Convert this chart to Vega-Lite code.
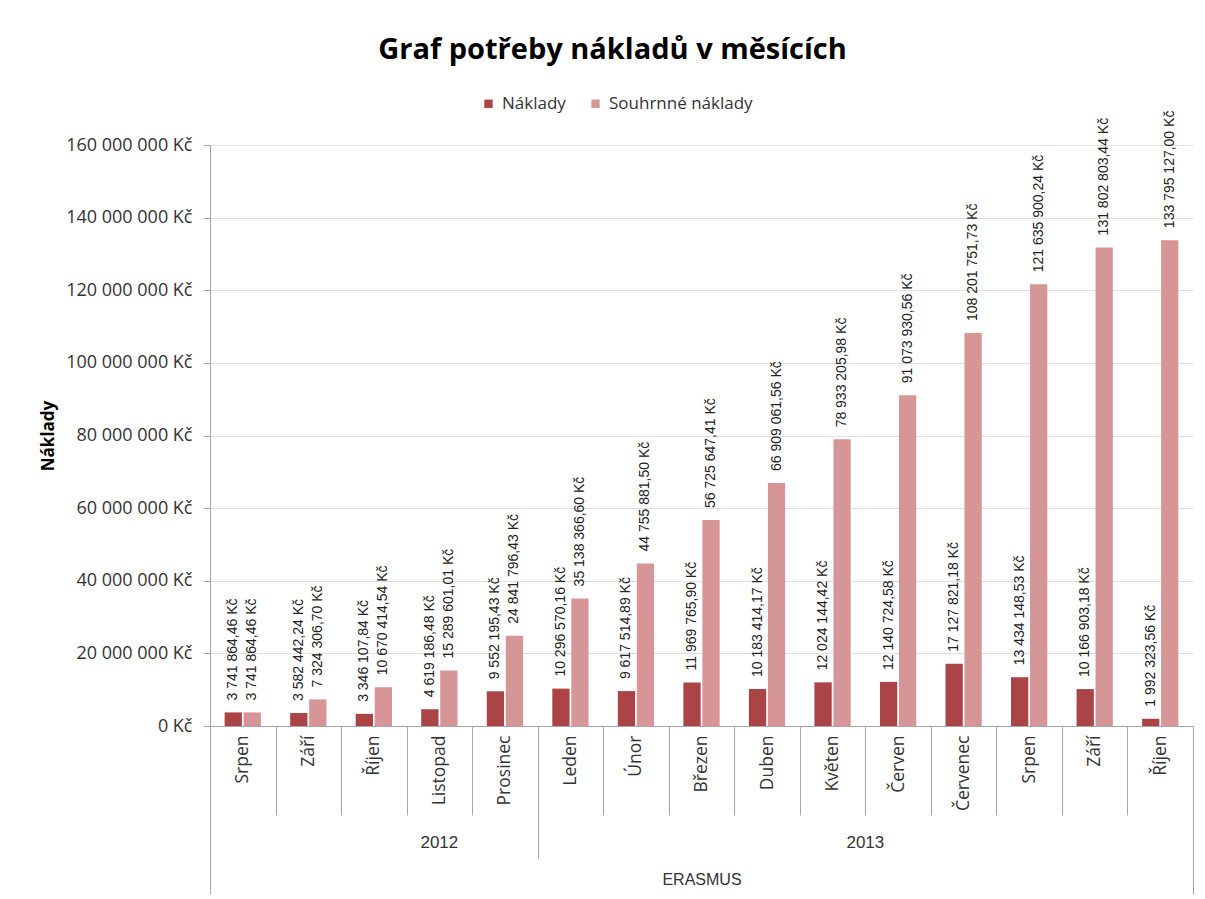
{
  "$schema": "https://vega.github.io/schema/vega-lite/v6.json",
  "width": 983,
  "height": 581,
  "autosize": {"type": "none"},
  "padding": {"left": 210, "top": 145, "right": 12, "bottom": 173},
  "background": "white",
  "config": {
    "locale": {"number": {"decimal": ",", "thousands": " ", "grouping": [3], "currency": ["", " Kč"]}},
    "view": {"stroke": null},
    "font": "Open Sans"
  },
  "title": {
    "text": "Graf potřeby nákladů v měsících",
    "anchor": "middle",
    "frame": "group",
    "dx": -89,
    "offset": 30,
    "font": "Open Sans",
    "fontSize": 29,
    "fontWeight": "bold",
    "color": "#000000"
  },
  "data": {
    "values": [
      {"key": "2012 Srpen", "series": "Náklady", "value": 3741864.46},
      {"key": "2012 Srpen", "series": "Souhrnné náklady", "value": 3741864.46},
      {"key": "2012 Září", "series": "Náklady", "value": 3582442.24},
      {"key": "2012 Září", "series": "Souhrnné náklady", "value": 7324306.70},
      {"key": "2012 Říjen", "series": "Náklady", "value": 3346107.84},
      {"key": "2012 Říjen", "series": "Souhrnné náklady", "value": 10670414.54},
      {"key": "2012 Listopad", "series": "Náklady", "value": 4619186.48},
      {"key": "2012 Listopad", "series": "Souhrnné náklady", "value": 15289601.01},
      {"key": "2012 Prosinec", "series": "Náklady", "value": 9552195.43},
      {"key": "2012 Prosinec", "series": "Souhrnné náklady", "value": 24841796.43},
      {"key": "2013 Leden", "series": "Náklady", "value": 10296570.16},
      {"key": "2013 Leden", "series": "Souhrnné náklady", "value": 35138366.60},
      {"key": "2013 Únor", "series": "Náklady", "value": 9617514.89},
      {"key": "2013 Únor", "series": "Souhrnné náklady", "value": 44755881.50},
      {"key": "2013 Březen", "series": "Náklady", "value": 11969765.90},
      {"key": "2013 Březen", "series": "Souhrnné náklady", "value": 56725647.41},
      {"key": "2013 Duben", "series": "Náklady", "value": 10183414.17},
      {"key": "2013 Duben", "series": "Souhrnné náklady", "value": 66909061.56},
      {"key": "2013 Květen", "series": "Náklady", "value": 12024144.42},
      {"key": "2013 Květen", "series": "Souhrnné náklady", "value": 78933205.98},
      {"key": "2013 Červen", "series": "Náklady", "value": 12140724.58},
      {"key": "2013 Červen", "series": "Souhrnné náklady", "value": 91073930.56},
      {"key": "2013 Červenec", "series": "Náklady", "value": 17127821.18},
      {"key": "2013 Červenec", "series": "Souhrnné náklady", "value": 108201751.73},
      {"key": "2013 Srpen", "series": "Náklady", "value": 13434148.53},
      {"key": "2013 Srpen", "series": "Souhrnné náklady", "value": 121635900.24},
      {"key": "2013 Září", "series": "Náklady", "value": 10166903.18},
      {"key": "2013 Září", "series": "Souhrnné náklady", "value": 131802803.44},
      {"key": "2013 Říjen", "series": "Náklady", "value": 1992323.56},
      {"key": "2013 Říjen", "series": "Souhrnné náklady", "value": 133795127.00}
    ]
  },
  "layer": [
    {
      "mark": {"type": "bar"},
      "encoding": {
        "x": {
          "field": "key",
          "type": "nominal",
          "sort": null,
          "scale": {"paddingInner": 0, "paddingOuter": 0},
          "axis": {
            "orient": "bottom",
            "title": null,
            "labelExpr": "split(datum.label, ' ')[1]",
            "labelAngle": 270,
            "labelAlign": "right",
            "labelBaseline": "middle",
            "labelFont": "Open Sans",
            "labelFontSize": 17.5,
            "labelColor": "#333333",
            "tickBand": "extent",
            "tickColor": "#a6a6a6",
            "tickWidth": 1,
            "tickSize": {
              "condition": [
                {"test": "datum.extra || datum.value === '2013 Říjen'", "value": 168},
                {"test": "datum.value === '2012 Prosinec'", "value": 132}
              ],
              "value": 89
            },
            "labelPadding": {
              "condition": [
                {"test": "datum.extra || datum.value === '2013 Říjen'", "value": -159},
                {"test": "datum.value === '2012 Prosinec'", "value": -123}
              ],
              "value": -80
            },
            "domainColor": "#a6a6a6",
            "grid": false
          }
        },
        "xOffset": {
          "field": "series",
          "type": "nominal",
          "sort": ["Náklady", "Souhrnné náklady"],
          "scale": {"paddingInner": 0.09, "paddingOuter": 0.77}
        },
        "y": {
          "field": "value",
          "type": "quantitative",
          "scale": {"domain": [0, 160000000]},
          "axis": {
            "title": "Náklady",
            "titleFont": "Open Sans",
            "titleFontSize": 17,
            "titleFontWeight": "bold",
            "titleColor": "#000000",
            "titlePadding": 8,
            "values": [0, 20000000, 40000000, 60000000, 80000000, 100000000, 120000000, 140000000, 160000000],
            "format": "$,.0f",
            "labelFont": "Open Sans",
            "labelFontSize": 18,
            "labelColor": "#333333",
            "tickSize": 7,
            "labelPadding": 11,
            "tickColor": "#a6a6a6",
            "domainColor": "#a6a6a6",
            "gridColor": "#e0e0e0",
            "grid": true
          }
        },
        "color": {
          "field": "series",
          "type": "nominal",
          "sort": ["Náklady", "Souhrnné náklady"],
          "scale": {"range": ["#AA4447", "#D69596"]},
          "legend": {
            "orient": "none",
            "legendX": 270,
            "legendY": -50,
            "direction": "horizontal",
            "title": null,
            "symbolType": "square",
            "symbolSize": 70,
            "symbolStrokeWidth": 0,
            "labelFont": "Open Sans",
            "labelFontSize": 17,
            "labelColor": "#333333",
            "labelOffset": 5,
            "columnPadding": 21,
            "padding": 0
          }
        }
      }
    },
    {
      "mark": {
        "type": "text",
        "angle": 270,
        "align": "left",
        "baseline": "middle",
        "dx": 12,
        "font": "Liberation Sans",
        "fontSize": 14,
        "color": "#222222"
      },
      "encoding": {
        "x": {
          "field": "key",
          "type": "nominal",
          "sort": null,
          "axis": {
            "orient": "bottom",
            "title": "ERASMUS",
            "titleFont": "Liberation Sans",
            "titleFontSize": 16,
            "titleFontWeight": "normal",
            "titleColor": "#333333",
            "titlePadding": 21,
            "labelExpr": "datum.value == '2012 Listopad' ? '2012' : datum.value == '2013 Květen' ? '2013' : ''",
            "labelAngle": 0,
            "labelAlign": "center",
            "labelBaseline": "top",
            "labelFont": "Liberation Sans",
            "labelFontSize": 17,
            "labelColor": "#333333",
            "labelOffset": {"condition": {"test": "datum.value == '2013 Květen'", "value": 32.8}, "value": 0},
            "labelPadding": 108,
            "ticks": false,
            "domain": false,
            "grid": false
          }
        },
        "xOffset": {"field": "series", "type": "nominal", "sort": ["Náklady", "Souhrnné náklady"]},
        "y": {"field": "value", "type": "quantitative"},
        "text": {"field": "value", "type": "quantitative", "format": "$,.2f"}
      }
    }
  ],
  "resolve": {"axis": {"x": "independent"}}
}
